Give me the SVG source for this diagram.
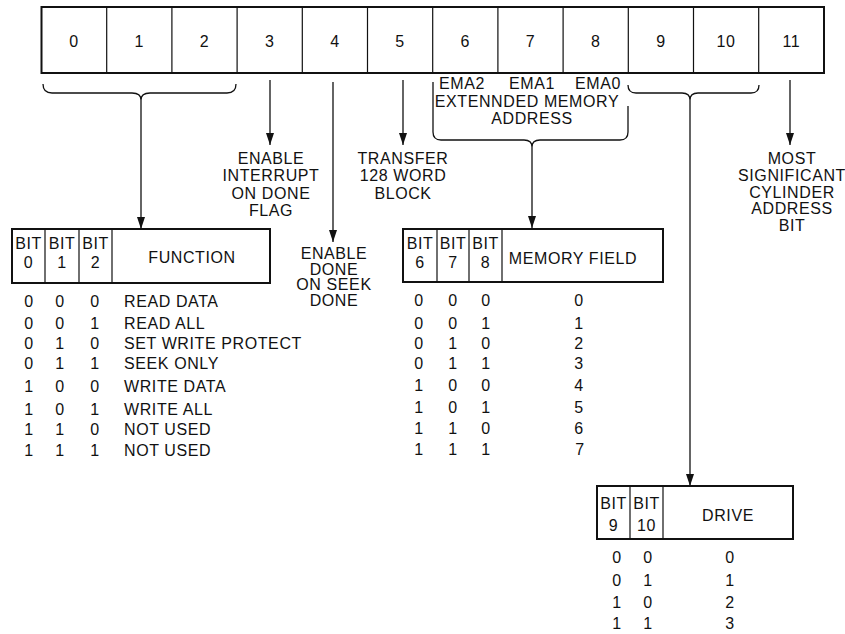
<svg xmlns="http://www.w3.org/2000/svg" width="845" height="634" viewBox="0 0 845 634">
<style>
text{font-family:"Liberation Sans",Arial,sans-serif;font-size:16px;fill:#111;letter-spacing:0.6px}
.c{text-anchor:middle}
.big{font-size:16px}
.outer{fill:#fff;stroke:#111;stroke-width:2}
.div{stroke:#111;stroke-width:1.2;fill:none}
.conn{stroke:#111;stroke-width:1.3;fill:none}
</style>
<defs>
<marker id="ah" viewBox="0 -4 12 8" refX="12" refY="0" markerWidth="12" markerHeight="8" markerUnits="userSpaceOnUse" orient="auto">
<path d="M0,-4 L12,0 L0,4 z" fill="#111"/>
</marker>
</defs>
<rect width="845" height="634" fill="#fff"/>

<g id="register">
<rect class="outer" x="41.5" y="7" width="782.5" height="66"/>
<path class="div" d="M106.7,7V73M171.9,7V73M237.1,7V73M302.3,7V73M367.5,7V73M432.7,7V73M497.9,7V73M563.1,7V73M628.3,7V73M693.5,7V73M758.7,7V73"/>
<text class="c big" x="74.1" y="47">0</text>
<text class="c big" x="139.3" y="47">1</text>
<text class="c big" x="204.5" y="47">2</text>
<text class="c big" x="269.7" y="47">3</text>
<text class="c big" x="334.9" y="47">4</text>
<text class="c big" x="400.1" y="47">5</text>
<text class="c big" x="465.3" y="47">6</text>
<text class="c big" x="530.5" y="47">7</text>
<text class="c big" x="595.7" y="47">8</text>
<text class="c big" x="660.9" y="47">9</text>
<text class="c big" x="726.1" y="47">10</text>
<text class="c big" x="791.3" y="47">11</text>
</g>

<g id="connectors">
<path class="conn" d="M43,84 Q43,93 52,93 L132,93 Q141,93 141,100 Q141,93 150,93 L227,93 Q236,93 236,84"/>
<path class="conn" d="M141,100 V229" marker-end="url(#ah)"/>
<path class="conn" d="M270,80 V145" marker-end="url(#ah)"/>
<path class="conn" d="M333,82 V242" marker-end="url(#ah)"/>
<path class="conn" d="M403,80 V145" marker-end="url(#ah)"/>
<path class="conn" d="M433,82 V132 Q433,140 441,140 L524,140 Q532,140 532,147 Q532,140 540,140 L620,140 Q628,140 628,132 V106"/>
<path class="conn" d="M532,147 V228" marker-end="url(#ah)"/>
<path class="conn" d="M628,85 Q628,93 636,93 L682,93 Q690,93 690,100 Q690,93 698,93 L751,93 Q759,93 759,85"/>
<path class="conn" d="M690,100 V486" marker-end="url(#ah)"/>
<path class="conn" d="M790,80 V145" marker-end="url(#ah)"/>
</g>

<g id="label-bit3">
<text class="c" x="271" y="164">ENABLE</text>
<text class="c" x="271" y="181">INTERRUPT</text>
<text class="c" x="271" y="198.5">ON DONE</text>
<text class="c" x="271" y="215.5">FLAG</text>
</g>
<g id="label-bit4">
<text class="c" x="334" y="258.5">ENABLE</text>
<text class="c" x="334" y="274.5">DONE</text>
<text class="c" x="334" y="290">ON SEEK</text>
<text class="c" x="334" y="305.5">DONE</text>
</g>
<g id="label-bit5">
<text class="c" x="403" y="164">TRANSFER</text>
<text class="c" x="403" y="181">128 WORD</text>
<text class="c" x="403" y="198.5">BLOCK</text>
</g>
<g id="label-ema">
<text class="c" x="462" y="89">EMA2</text>
<text class="c" x="532" y="89">EMA1</text>
<text class="c" x="598" y="89">EMA0</text>
<text class="c" x="527" y="107">EXTENNDED MEMORY</text>
<text class="c" x="532" y="123.5">ADDRESS</text>
</g>
<g id="label-bit11">
<text class="c" x="792" y="163.5">MOST</text>
<text class="c" x="792" y="180.5">SIGNIFICANT</text>
<text class="c" x="792" y="197.5">CYLINDER</text>
<text class="c" x="792" y="213.5">ADDRESS</text>
<text class="c" x="792" y="231">BIT</text>
</g>

<g id="function-table">
<rect class="outer" x="12" y="229" width="258" height="54"/>
<path class="div" d="M45,229V283M79,229V283M112,229V283"/>
<text class="c" x="28.5" y="248.5">BIT</text>
<text class="c" x="28.5" y="267.5">0</text>
<text class="c" x="62" y="248.5">BIT</text>
<text class="c" x="62" y="267.5">1</text>
<text class="c" x="95.5" y="248.5">BIT</text>
<text class="c" x="95.5" y="267.5">2</text>
<text class="c" x="192" y="262.5">FUNCTION</text>
<text class="c" x="29" y="307">0</text><text class="c" x="60" y="307">0</text><text class="c" x="95" y="307">0</text><text x="124" y="307">READ DATA</text>
<text class="c" x="29" y="329">0</text><text class="c" x="60" y="329">0</text><text class="c" x="95" y="329">1</text><text x="124" y="329">READ ALL</text>
<text class="c" x="29" y="349">0</text><text class="c" x="60" y="349">1</text><text class="c" x="95" y="349">0</text><text x="124" y="349">SET WRITE PROTECT</text>
<text class="c" x="29" y="369">0</text><text class="c" x="60" y="369">1</text><text class="c" x="95" y="369">1</text><text x="124" y="369">SEEK ONLY</text>
<text class="c" x="29" y="392">1</text><text class="c" x="60" y="392">0</text><text class="c" x="95" y="392">0</text><text x="124" y="392">WRITE DATA</text>
<text class="c" x="29" y="415">1</text><text class="c" x="60" y="415">0</text><text class="c" x="95" y="415">1</text><text x="124" y="415">WRITE ALL</text>
<text class="c" x="29" y="435">1</text><text class="c" x="60" y="435">1</text><text class="c" x="95" y="435">0</text><text x="124" y="435">NOT USED</text>
<text class="c" x="29" y="456">1</text><text class="c" x="60" y="456">1</text><text class="c" x="95" y="456">1</text><text x="124" y="456">NOT USED</text>
</g>

<g id="memory-table">
<rect class="outer" x="403" y="229" width="260" height="53"/>
<path class="div" d="M437,229V282M469,229V282M502,229V282"/>
<text class="c" x="420" y="248.5">BIT</text>
<text class="c" x="420" y="267.5">6</text>
<text class="c" x="453" y="248.5">BIT</text>
<text class="c" x="453" y="267.5">7</text>
<text class="c" x="485.5" y="248.5">BIT</text>
<text class="c" x="485.5" y="267.5">8</text>
<text class="c" x="573" y="263.5">MEMORY FIELD</text>
<text class="c" x="419" y="305.5">0</text><text class="c" x="453" y="305.5">0</text><text class="c" x="486" y="305.5">0</text><text class="c" x="579" y="305.5">0</text>
<text class="c" x="419" y="328.5">0</text><text class="c" x="453" y="328.5">0</text><text class="c" x="486" y="328.5">1</text><text class="c" x="579" y="328.5">1</text>
<text class="c" x="419" y="348.5">0</text><text class="c" x="453" y="348.5">1</text><text class="c" x="486" y="348.5">0</text><text class="c" x="579" y="348.5">2</text>
<text class="c" x="419" y="368.5">0</text><text class="c" x="453" y="368.5">1</text><text class="c" x="486" y="368.5">1</text><text class="c" x="579" y="368.5">3</text>
<text class="c" x="419" y="390.5">1</text><text class="c" x="453" y="390.5">0</text><text class="c" x="486" y="390.5">0</text><text class="c" x="579" y="390.5">4</text>
<text class="c" x="419" y="412.5">1</text><text class="c" x="453" y="412.5">0</text><text class="c" x="486" y="412.5">1</text><text class="c" x="579" y="412.5">5</text>
<text class="c" x="419" y="433.5">1</text><text class="c" x="453" y="433.5">1</text><text class="c" x="486" y="433.5">0</text><text class="c" x="579" y="433.5">6</text>
<text class="c" x="419" y="454.5">1</text><text class="c" x="453" y="454.5">1</text><text class="c" x="486" y="454.5">1</text><text class="c" x="580" y="454.5">7</text>
</g>

<g id="drive-table">
<rect class="outer" x="597" y="486" width="196" height="53"/>
<path class="div" d="M630,486V539M663,486V539"/>
<text class="c" x="613.5" y="508.5">BIT</text>
<text class="c" x="613.5" y="530.5">9</text>
<text class="c" x="646.5" y="508.5">BIT</text>
<text class="c" x="646.5" y="530.5">10</text>
<text class="c" x="728" y="520.5">DRIVE</text>
<text class="c" x="617" y="562.5">0</text><text class="c" x="648" y="562.5">0</text><text class="c" x="730" y="562.5">0</text>
<text class="c" x="617" y="585.5">0</text><text class="c" x="648" y="585.5">1</text><text class="c" x="730" y="585.5">1</text>
<text class="c" x="617" y="607.5">1</text><text class="c" x="648" y="607.5">0</text><text class="c" x="730" y="607.5">2</text>
<text class="c" x="617" y="628.5">1</text><text class="c" x="648" y="628.5">1</text><text class="c" x="730" y="628.5">3</text>
</g>
</svg>
